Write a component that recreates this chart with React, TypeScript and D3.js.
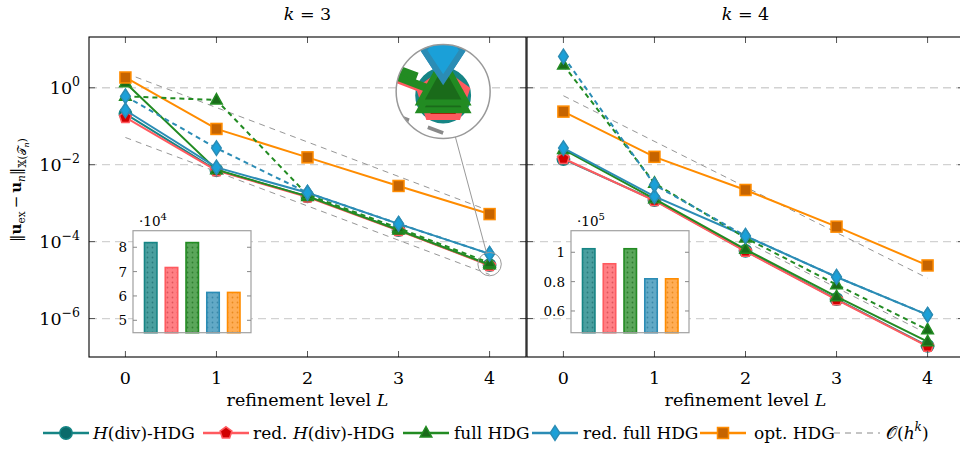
import React from 'react';
import * as d3 from 'd3';

const levels = [0, 1, 2, 3, 4];
const methods = ['H(div)-HDG', 'red. H(div)-HDG', 'full HDG', 'red. full HDG', 'opt. HDG'];

// k = 3 : errors per refinement level
const k3Hdiv = [2.1e-1, 7.2e-3, 1.5e-3, 2.0e-4, 2.45e-5];
const k3RedHdiv = [1.7e-1, 7.0e-3, 1.45e-3, 1.95e-4, 2.4e-5];
const k3Full = [1.35, 7.4e-3, 1.5e-3, 2.0e-4, 2.5e-5];
const k3RedFull = [2.6e-1, 8.5e-3, 1.86e-3, 2.9e-4, 4.8e-5];
const k3Opt = [1.85, 8.5e-2, 1.55e-2, 2.8e-3, 5.2e-4];
const k3FullAlt = [6.0e-1, 4.8e-1, 1.65e-3, 2.25e-4, 2.8e-5];
const k3RedFullAlt = [6.0e-1, 2.7e-2, 1.86e-3, 2.9e-4, 4.8e-5];
const k3RefUpper = [2.4, 6.3e-4]; // L = 0 .. 4
const k3RefLower = [5.1e-2, 1.4e-5]; // L = 0 .. 4

// k = 4
const k4Hdiv = [1.4e-2, 1.2e-3, 5.75e-5, 3.2e-6, 1.95e-7];
const k4RedHdiv = [1.45e-2, 1.17e-3, 5.6e-5, 3.1e-6, 1.9e-7];
const k4Full = [2.5e-2, 1.3e-3, 6.3e-5, 3.7e-6, 2.5e-7];
const k4RedFull = [2.7e-2, 1.5e-3, 1.4e-4, 1.2e-5, 1.25e-6];
const k4Opt = [2.4e-1, 1.6e-2, 2.2e-3, 2.45e-4, 2.4e-5];
const k4FullAlt = [3.9, 3.3e-3, 1.25e-4, 7.6e-6, 5.1e-7];
const k4RedFullAlt = [6.5, 3.0e-3, 1.4e-4, 1.2e-5, 1.25e-6];
const k4RefUpper = [6.2e-1, 1.12e-5]; // L = 0 .. 4
const k4RefLower = [1.0e-4, 4.0e-7]; // L = 2 .. 4

// inset bars (degrees of freedom)
const k3Dofs = [8.192, 7.168, 8.192, 6.144, 6.144]; // x 10^4
const k4Dofs = [1.024, 0.9216, 1.024, 0.8192, 0.8192]; // x 10^5
const k3BarTicks = [5, 6, 7, 8];
const k4BarTicks = [0.6, 0.8, 1];

const yTicks = [1, 1e-2, 1e-4, 1e-6];
const yTickExp = ['0', '−2', '−4', '−6'];

const FONT = "'DejaVu Serif', 'Liberation Serif', serif";
const FS = 17.5;

const STY = [
  { color: '#168585', fill: '#0b6b6b', marker: 'circle', bar: '#4a9f9f', dot: '#2a7d7d' },
  { color: '#ff5a5f', fill: '#d00000', marker: 'pentagon', bar: '#ff7f84', dot: '#e0555a' },
  { color: '#228b22', fill: '#1a6b1a', marker: 'triangle', bar: '#5aa65a', dot: '#2f7f2f' },
  { color: '#2b8cb5', fill: '#1ba0d8', marker: 'diamond', bar: '#62a9c6', dot: '#3a89a8' },
  { color: '#ff8c00', fill: '#c66400', marker: 'square', bar: '#ffad55', dot: '#e88a20' },
];

const YT = 37, YB = 357;
const y = d3.scaleLog().domain([1e-7, Math.pow(10, 1.32)]).range([YB, YT]);

function Marker({ type, x, y, color, fill }: any) {
  const sw = 1.5;
  if (type === 'circle') return <circle cx={x} cy={y} r={6.2} fill={fill} stroke={color} strokeWidth={sw} />;
  if (type === 'square') return <rect x={x - 5.5} y={y - 5.5} width={11} height={11} fill={fill} stroke={color} strokeWidth={sw} />;
  let pts: number[][] = [];
  if (type === 'pentagon') {
    pts = d3.range(5).map((i) => {
      const a = -Math.PI / 2 + (i * 2 * Math.PI) / 5;
      return [x + 6.2 * Math.cos(a), y + 6.2 * Math.sin(a)];
    });
  } else if (type === 'triangle') {
    pts = [[x, y - 6.5], [x + 5.8, y + 4], [x - 5.8, y + 4]];
  } else {
    pts = [[x, y - 7.3], [x + 4.8, y], [x, y + 7.3], [x - 4.8, y]];
  }
  return <polygon points={pts.map((p) => p.join(',')).join(' ')} fill={fill} stroke={color} strokeWidth={sw} strokeLinejoin="miter" />;
}

type Series = { values: number[]; style: number; dashed: boolean };
type Ref = { from: number; to: number; values: number[] };

function Panel({ x0, series, refs, dofs, barDomain, barTicks, barExp, spy, id }: any) {
  const x = d3.scaleLinear().domain([-0.4, 4.4]).range([x0, x0 + 437]);
  const line = d3.line<number>().x((_, i) => x(levels[i])).y((v) => y(v));

  const content = (
    <g>
      {yTicks.map((t, i) => (
        <line key={'g' + i} x1={x0} x2={x0 + 437} y1={y(t)} y2={y(t)} stroke="#d2d2d2" strokeWidth={1.3} strokeDasharray="8,5" />
      ))}
      {(refs as Ref[]).map((r, i) => (
        <line key={'r' + i} x1={x(r.from)} x2={x(r.to)} y1={y(r.values[0])} y2={y(r.values[1])} stroke="#8a8a8a" strokeWidth={0.9} strokeDasharray="6,5" />
      ))}
      {(series as Series[]).map((s, i) => {
        const st = STY[s.style];
        return (
          <g key={'s' + i}>
            <path d={line(s.values) || ''} fill="none" stroke={st.color} strokeWidth={2} strokeDasharray={s.dashed ? '5,4' : undefined} />
            {s.values.map((v, j) => (
              <Marker key={j} type={st.marker} x={x(levels[j])} y={y(v)} color={st.color} fill={st.fill} />
            ))}
          </g>
        );
      })}
    </g>
  );

  // inset
  const fx0 = x0 + 44, fx1 = fx0 + 118, fy0 = 230.7, fy1 = 332.7;
  const by = d3.scaleLinear().domain(barDomain).range([fy1, fy0]);
  const bx = d3.scaleBand().domain(methods).range([fx0 + 11.5, fx0 + 11.5 + 95.5]).paddingInner(0.4).paddingOuter(0);

  let spyEl = null;
  if (spy) {
    const cx = x(spy.small[0]), cy = y(spy.small[1]);
    const Cx = x(spy.big[0]), Cy = y(spy.big[1]);
    const r = spy.r, R = spy.R, s = R / r;
    const dx = cx - Cx, dy = cy - Cy, d = Math.hypot(dx, dy);
    const ux = dx / d, uy = dy / d;
    spyEl = (
      <g>
        <defs>
          <clipPath id={'spy' + id}>
            <circle cx={Cx} cy={Cy} r={R} />
          </clipPath>
        </defs>
        <line x1={Cx + ux * R} y1={Cy + uy * R} x2={cx - ux * r} y2={cy - uy * r} stroke="#999" strokeWidth={1} />
        <circle cx={cx} cy={cy} r={r} fill="none" stroke="#999" strokeWidth={1} />
        <g clipPath={`url(#spy${id})`}>
          <circle cx={Cx} cy={Cy} r={R} fill="white" />
          <g transform={`translate(${Cx},${Cy}) scale(${s}) translate(${-cx},${-cy})`}>{content}</g>
        </g>
        <circle cx={Cx} cy={Cy} r={R} fill="none" stroke="#999" strokeWidth={1.5} />
      </g>
    );
  }

  return (
    <g>
      {content}
      <g>
        <rect x={fx0} y={fy0} width={fx1 - fx0} height={fy1 - fy0} fill="white" />
        {(dofs as number[]).map((v, i) => (
          <g key={i}>
            <rect x={bx(methods[i])} y={by(v)} width={bx.bandwidth()} height={fy1 - by(v)} fill={STY[i].bar} />
            <rect x={bx(methods[i])} y={by(v)} width={bx.bandwidth()} height={fy1 - by(v)} fill={`url(#dots${i})`} stroke={STY[i].color} strokeWidth={1.6} />
          </g>
        ))}
        <rect x={fx0} y={fy0} width={fx1 - fx0} height={fy1 - fy0} fill="none" stroke="#a0a0a0" strokeWidth={1.2} />
        {(barTicks as number[]).map((t, i) => (
          <g key={i}>
            <line x1={fx0} x2={fx0 + 4} y1={by(t)} y2={by(t)} stroke="#888" />
            <line x1={fx1 - 4} x2={fx1} y1={by(t)} y2={by(t)} stroke="#888" />
            <text x={fx0 - 6} y={by(t) + 5} textAnchor="end" fontSize={13.5}>{String(t)}</text>
          </g>
        ))}
        <text x={fx0 + 6} y={fy0 - 5} fontSize={13.5}>
          ·10<tspan fontSize={10} dy={-6}>{barExp}</tspan>
        </text>
      </g>
      {spyEl}
      {levels.map((l) => (
        <g key={'xt' + l}>
          <line x1={x(l)} x2={x(l)} y1={YB} y2={YB - 6} stroke="#555" />
          <line x1={x(l)} x2={x(l)} y1={YT} y2={YT + 6} stroke="#555" />
          <text x={x(l)} y={YB + 27} textAnchor="middle" fontSize={FS}>{l}</text>
        </g>
      ))}
      {yTicks.map((t, i) => (
        <g key={'yt' + i}>
          <line x1={x0} x2={x0 + 6} y1={y(t)} y2={y(t)} stroke="#555" />
          <line x1={x0 + 437} x2={x0 + 431} y1={y(t)} y2={y(t)} stroke="#555" />
        </g>
      ))}
      <rect x={x0} y={YT} width={437} height={YB - YT} fill="none" stroke="#000" strokeWidth={1.1} />
      <text x={x0 + 218.5} y={YB + 49} textAnchor="middle" fontSize={FS}>
        refinement level <tspan fontStyle="italic">L</tspan>
      </text>
    </g>
  );
}

const legendPos = [
  { lx: 43, tx: 93 },
  { lx: 203, tx: 253 },
  { lx: 403, tx: 454 },
  { lx: 532, tx: 583 },
  { lx: 700, tx: 754 },
];

export default function App() {
  const k3Series: Series[] = [
    { values: k3Hdiv, style: 0, dashed: false },
    { values: k3RedHdiv, style: 1, dashed: false },
    { values: k3Full, style: 2, dashed: false },
    { values: k3RedFull, style: 3, dashed: false },
    { values: k3Opt, style: 4, dashed: false },
    { values: k3FullAlt, style: 2, dashed: true },
    { values: k3RedFullAlt, style: 3, dashed: true },
  ];
  const k4Series: Series[] = [
    { values: k4Hdiv, style: 0, dashed: false },
    { values: k4RedHdiv, style: 1, dashed: false },
    { values: k4Full, style: 2, dashed: false },
    { values: k4RedFull, style: 3, dashed: false },
    { values: k4Opt, style: 4, dashed: false },
    { values: k4FullAlt, style: 2, dashed: true },
    { values: k4RedFullAlt, style: 3, dashed: true },
  ];
  const ly = 433;
  return (
    <svg width={960} height={452} style={{ position: 'absolute', left: 0, top: 0, fontFamily: FONT }}>
      <defs>
        {STY.map((s, i) => (
          <pattern key={i} id={'dots' + i} width={5} height={5} patternUnits="userSpaceOnUse">
            <circle cx={2.5} cy={2.5} r={0.9} fill={s.dot} />
          </pattern>
        ))}
      </defs>
      <rect width={960} height={452} fill="white" />
      <text x={307.5} y={20} textAnchor="middle" fontSize={FS}>
        <tspan fontStyle="italic">k</tspan> = 3
      </text>
      <text x={745.5} y={20} textAnchor="middle" fontSize={FS}>
        <tspan fontStyle="italic">k</tspan> = 4
      </text>
      <Panel
        id="L"
        x0={89}
        series={k3Series}
        refs={[
          { from: 0, to: 4, values: k3RefUpper },
          { from: 0, to: 4, values: k3RefLower },
        ]}
        dofs={k3Dofs}
        barDomain={[4.49, 8.68]}
        barTicks={k3BarTicks}
        barExp="4"
        spy={{ small: [4.0, 2.6e-5], big: [3.49, 0.8], r: 11.7, R: 47 }}
      />
      <Panel
        id="R"
        x0={527}
        series={k4Series}
        refs={[
          { from: 0, to: 4, values: k4RefUpper },
          { from: 2, to: 4, values: k4RefLower },
        ]}
        dofs={k4Dofs}
        barDomain={[0.452, 1.147]}
        barTicks={k4BarTicks}
        barExp="5"
        spy={null}
      />
      {yTicks.map((t, i) => (
        <text key={i} x={80} y={y(t) + 6.5} textAnchor="end" fontSize={FS}>
          10<tspan fontSize={12.5} dy={-8}>{yTickExp[i]}</tspan>
        </text>
      ))}
      <text transform="translate(21,190) rotate(-90)" textAnchor="middle" fontSize={15}>
        ‖<tspan fontWeight="bold">u</tspan>
        <tspan fontSize={10.5} dy={4}>ex</tspan>
        <tspan dy={-4}>{'\u2009−\u2009'}</tspan>
        <tspan fontWeight="bold">u</tspan>
        <tspan fontSize={10.5} dy={4} fontStyle="italic">n</tspan>
        <tspan dy={-4}>‖</tspan>
        <tspan fontSize={10.5} dy={5}>𝕏(𝒯</tspan>
        <tspan fontSize={8} dy={2.5} fontStyle="italic">n</tspan>
        <tspan fontSize={10.5} dy={-2.5}>)</tspan>
      </text>
      {methods.map((m, i) => {
        const p = legendPos[i];
        const st = STY[i];
        return (
          <g key={m}>
            <line x1={p.lx} x2={p.lx + 46} y1={ly} y2={ly} stroke={st.color} strokeWidth={2.5} />
            <Marker type={st.marker} x={p.lx + 23} y={ly} color={st.color} fill={st.fill} />
            <text x={p.tx} y={ly + 6} fontSize={17}>
              {i === 0 || i === 1 ? (
                <>
                  {i === 1 ? 'red. ' : ''}
                  <tspan fontStyle="italic">H</tspan>(div)-HDG
                </>
              ) : (
                m
              )}
            </text>
          </g>
        );
      })}
      <line x1={834} x2={880} y1={ly} y2={ly} stroke="#8a8a8a" strokeWidth={1} strokeDasharray="6,5" />
      <text x={886} y={ly + 6} fontSize={17}>
        𝒪(<tspan fontStyle="italic">h</tspan>
        <tspan fontSize={12} dy={-8} fontStyle="italic">k</tspan>
        <tspan dy={8}>)</tspan>
      </text>
    </svg>
  );
}
